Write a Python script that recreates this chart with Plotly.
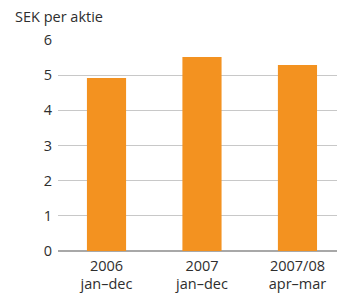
import plotly.graph_objects as go

categories = ["2006<br>jan–dec", "2007<br>jan–dec", "2007/08<br>apr–mar"]
values = [4.92, 5.52, 5.29]
y_ticks = [0, 1, 2, 3, 4, 5, 6]
y_title = "SEK per aktie"

fig = go.Figure()
fig.add_trace(go.Bar(
    x=list(range(len(categories))), y=values,
    marker=dict(color="#F39220", line=dict(width=0)),
    width=0.41,
))

font = dict(family="Open Sans, Noto Sans, sans-serif", size=14.5, color="#2e2e2e")
fig.update_layout(
    width=337, height=293,
    margin=dict(l=58, r=0, t=40, b=42),
    paper_bgcolor="white", plot_bgcolor="white",
    showlegend=False,
    font=font,
    xaxis=dict(
        tickmode="array", tickvals=list(range(len(categories))), ticktext=categories,
        range=[-0.508, 2.414], showgrid=False, zeroline=False, showline=False,
        ticks="", tickfont=font, ticklabelstandoff=4,
    ),
    yaxis=dict(
        range=[0, 6], tickvals=y_ticks, showgrid=True, gridcolor="#c8c8c8", gridwidth=1.2,
        zeroline=True, zerolinecolor="#a8a8a8", zerolinewidth=2,
        showline=False, ticks="", tickfont=font, ticklabelstandoff=5,
    ),
    annotations=[dict(
        text=y_title, xref="paper", yref="paper", x=0, y=1, xanchor="left", yanchor="bottom",
        xshift=-45, yshift=12, showarrow=False, font=font,
    )],
)
fig.write_html(
    "out.html",
    config={"displayModeBar": False, "staticPlot": True},
    post_script="document.body.style.margin='0';document.body.style.overflow='hidden';",
)
